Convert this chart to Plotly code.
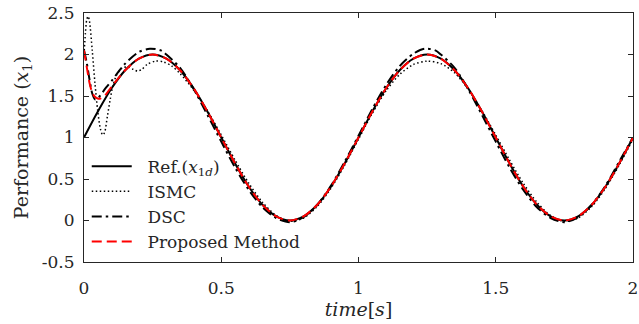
import plotly.graph_objects as go

# Reference trajectory x_1d
t_ref = [0.00, 0.05, 0.10, 0.15, 0.20, 0.25, 0.30, 0.35, 0.40, 0.45, 0.50,
         0.55, 0.60, 0.65, 0.70, 0.75, 0.80, 0.85, 0.90, 0.95, 1.00,
         1.05, 1.10, 1.15, 1.20, 1.25, 1.30, 1.35, 1.40, 1.45, 1.50,
         1.55, 1.60, 1.65, 1.70, 1.75, 1.80, 1.85, 1.90, 1.95, 2.00]
y_ref = [1.00, 1.31, 1.59, 1.81, 1.95, 2.00, 1.95, 1.81, 1.59, 1.31, 1.00,
         0.69, 0.41, 0.19, 0.05, 0.00, 0.05, 0.19, 0.41, 0.69, 1.00,
         1.31, 1.59, 1.81, 1.95, 2.00, 1.95, 1.81, 1.59, 1.31, 1.00,
         0.69, 0.41, 0.19, 0.05, 0.00, 0.05, 0.19, 0.41, 0.69, 1.00]

# ISMC
t_ismc = [0.000, 0.005, 0.010, 0.015, 0.020, 0.030, 0.040, 0.050, 0.060, 0.068,
          0.075, 0.085, 0.095, 0.105, 0.120, 0.140, 0.160, 0.180, 0.195, 0.210,
          0.230, 0.260, 0.290, 0.320, 0.35, 0.40, 0.45, 0.50, 0.55, 0.60,
          0.65, 0.70, 0.75, 0.80, 0.85, 0.90, 0.95, 1.00, 1.05, 1.10,
          1.15, 1.20, 1.25, 1.30, 1.35, 1.40, 1.45, 1.50, 1.55, 1.60,
          1.65, 1.70, 1.75, 1.80, 1.85, 1.90, 1.95, 2.00]
y_ismc = [2.00, 2.25, 2.42, 2.46, 2.40, 2.05, 1.65, 1.32, 1.10, 1.03,
          1.06, 1.25, 1.45, 1.62, 1.76, 1.84, 1.85, 1.82, 1.80, 1.82,
          1.88, 1.92, 1.91, 1.86, 1.77, 1.57, 1.32, 1.03, 0.73, 0.45,
          0.22, 0.06, -0.01, 0.03, 0.17, 0.39, 0.67, 0.98, 1.29, 1.56,
          1.76, 1.88, 1.92, 1.89, 1.78, 1.58, 1.32, 1.03, 0.73, 0.45,
          0.22, 0.06, -0.01, 0.03, 0.17, 0.39, 0.67, 0.98]

# DSC
t_dsc = [0.000, 0.010, 0.020, 0.030, 0.040, 0.050, 0.060, 0.080, 0.100, 0.150,
         0.200, 0.240, 0.280, 0.30, 0.35, 0.40, 0.45, 0.50, 0.55, 0.60,
         0.65, 0.70, 0.75, 0.80, 0.85, 0.90, 0.95, 1.00, 1.05, 1.10,
         1.15, 1.20, 1.24, 1.28, 1.30, 1.35, 1.40, 1.45, 1.50, 1.55,
         1.60, 1.65, 1.70, 1.75, 1.80, 1.85, 1.90, 1.95, 2.00]
y_dsc = [2.05, 1.90, 1.70, 1.53, 1.46, 1.47, 1.51, 1.60, 1.68, 1.89,
         2.03, 2.07, 2.05, 2.00, 1.84, 1.58, 1.27, 0.95, 0.64, 0.37,
         0.16, 0.03, -0.02, 0.04, 0.19, 0.42, 0.71, 1.02, 1.34, 1.63,
         1.86, 2.01, 2.07, 2.05, 2.00, 1.84, 1.58, 1.27, 0.95, 0.64,
         0.37, 0.16, 0.03, -0.02, 0.04, 0.19, 0.42, 0.71, 1.00]

# Proposed Method
t_prop = [0.000, 0.010, 0.020, 0.030, 0.040, 0.050, 0.060, 0.070, 0.080, 0.100,
          0.15, 0.20, 0.25, 0.30, 0.35, 0.40, 0.45, 0.50,
          0.55, 0.60, 0.65, 0.70, 0.75, 0.80, 0.85, 0.90, 0.95, 1.00,
          1.05, 1.10, 1.15, 1.20, 1.25, 1.30, 1.35, 1.40, 1.45, 1.50,
          1.55, 1.60, 1.65, 1.70, 1.75, 1.80, 1.85, 1.90, 1.95, 2.00]
y_prop = [2.05, 1.85, 1.66, 1.54, 1.49, 1.47, 1.47, 1.49, 1.52, 1.61,
          1.81, 1.95, 2.00, 1.95, 1.81, 1.59, 1.31, 1.00,
          0.69, 0.41, 0.19, 0.05, 0.00, 0.05, 0.19, 0.41, 0.69, 1.00,
          1.31, 1.59, 1.81, 1.95, 2.00, 1.95, 1.81, 1.59, 1.31, 1.00,
          0.69, 0.41, 0.19, 0.05, 0.00, 0.05, 0.19, 0.41, 0.69, 1.00]

x_ticks = [0, 0.5, 1, 1.5, 2]
x_ticklabels = ["0", "0.5", "1", "1.5", "2"]
y_ticks = [-0.5, 0, 0.5, 1, 1.5, 2, 2.5]
y_ticklabels = ["-0.5", "0", "0.5", "1", "1.5", "2", "2.5"]

FONT = "DejaVu Serif"
PAD = "&nbsp;&nbsp;"

fig = go.Figure()
fig.add_trace(go.Scatter(x=t_ref, y=y_ref, mode="lines", name=PAD + "Ref.(<i>x</i><sub>1<i>d</i></sub>)",
                         line=dict(color="black", width=2, shape="spline", smoothing=1.0)))
fig.add_trace(go.Scatter(x=t_ismc, y=y_ismc, mode="lines", name=PAD + "ISMC",
                         line=dict(color="black", width=1.5, dash="1.5px,2.5px", shape="spline", smoothing=0.8)))
fig.add_trace(go.Scatter(x=t_dsc, y=y_dsc, mode="lines", name=PAD + "DSC",
                         line=dict(color="black", width=2, dash="10px,4px,2.5px,4px", shape="spline", smoothing=0.8)))
fig.add_trace(go.Scatter(x=t_prop, y=y_prop, mode="lines", name=PAD + "Proposed Method",
                         line=dict(color="red", width=2, dash="10px,5px", shape="spline", smoothing=0.8)))

axis_common = dict(showline=True, linecolor="#262626", linewidth=1, mirror="ticks",
                   ticks="inside", ticklen=5, tickcolor="#262626", showgrid=False,
                   zeroline=False, automargin=False,
                   tickfont=dict(family=FONT, size=17, color="#262626"))

fig.update_xaxes(range=[0, 2], tickvals=x_ticks, ticktext=x_ticklabels,
                 ticklabelstandoff=11,
                 title=dict(text="<i>time</i>[<i>s</i>]", font=dict(family=FONT, size=19, color="#262626"),
                            standoff=0),
                 **axis_common)
fig.update_yaxes(range=[-0.5, 2.5], tickvals=y_ticks, ticktext=y_ticklabels,
                 ticklabelstandoff=5,
                 title=dict(text="Performance (<i>x</i><sub>1</sub>)",
                            font=dict(family=FONT, size=19, color="#262626"), standoff=8),
                 **axis_common)

fig.update_layout(
    width=639, height=324,
    margin=dict(l=84, r=6, t=13, b=62),
    paper_bgcolor="white", plot_bgcolor="white",
    showlegend=True,
    legend=dict(x=0.005, y=0.455, xanchor="left", yanchor="top",
                bgcolor="rgba(255,255,255,0)", borderwidth=0,
                font=dict(family=FONT, size=17, color="#262626"),
                tracegroupgap=0, itemwidth=40),
)

fig.write_html("out.html")
